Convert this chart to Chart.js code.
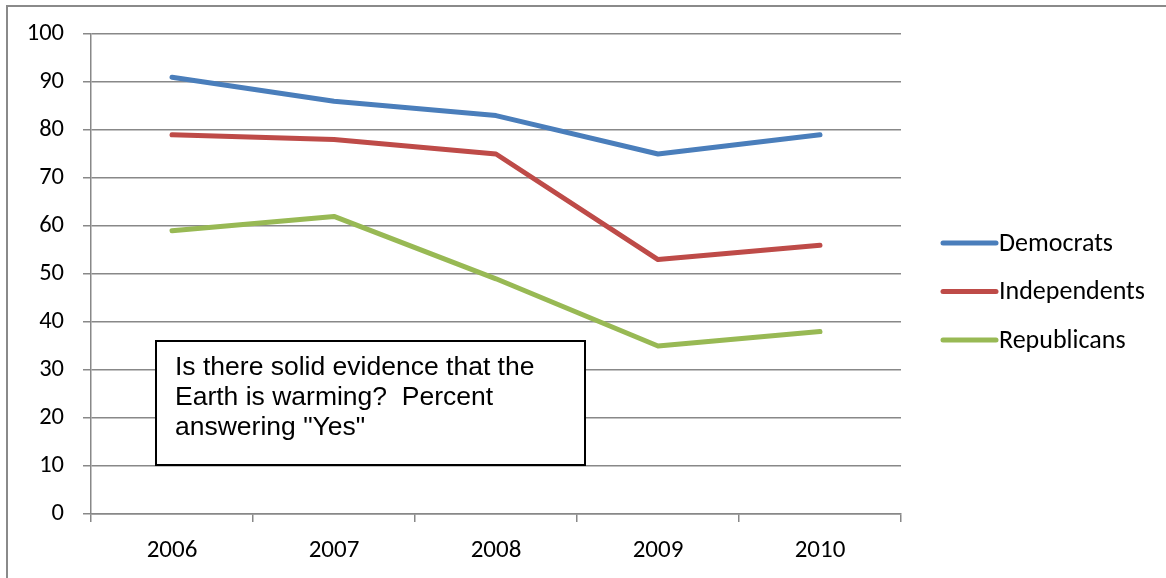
<!DOCTYPE html>
<html>
<head>
<meta charset="utf-8">
<script src="https://cdn.jsdelivr.net/npm/chart.js@4"></script>
<style>
  html, body { margin: 0; padding: 0; background: #fff; }
  #wrap { width: 1166px; height: 578px; position: relative; }
</style>
</head>
<body>
<div id="wrap"><canvas id="c" width="1166" height="578"></canvas></div>
<script>
const years = ['2006', '2007', '2008', '2009', '2010'];
const democrats = [91, 86, 83, 75, 79];
const independents = [79, 78, 75, 53, 56];
const republicans = [59, 62, 49, 35, 38];
const seriesNames = ['Democrats', 'Independents', 'Republicans'];
const seriesColors = ['#4A7EBB', '#BE4B48', '#98B954'];
const yTicks = [0, 10, 20, 30, 40, 50, 60, 70, 80, 90, 100];
const noteLines = ['Is there solid evidence that the', 'Earth is warming?  Percent', 'answering "Yes"'];

const fontFamily = 'Carlito, Lato, "Liberation Sans", sans-serif';
const gridGray = '#888888';

// outer frame, note box and legend
const decor = {
  id: 'decor',
  beforeDraw(chart) {
    const ctx = chart.ctx;
    ctx.save();
    ctx.fillStyle = '#fff';
    ctx.fillRect(0, 0, chart.width, chart.height);
    ctx.strokeStyle = '#8a8a8a';
    ctx.lineWidth = 2;
    ctx.strokeRect(7, 6, 1200, 700);
    ctx.restore();
  },
  afterDraw(chart) {
    const ctx = chart.ctx;
    ctx.save();
    // note box
    ctx.fillStyle = '#fff';
    ctx.fillRect(156, 341, 429, 124);
    ctx.strokeStyle = '#000';
    ctx.lineWidth = 2;
    ctx.strokeRect(156, 341, 429, 124);
    ctx.fillStyle = '#000';
    ctx.font = '26.5px "Liberation Sans", Arial, sans-serif';
    ctx.textBaseline = 'middle';
    ctx.textAlign = 'left';
    noteLines.forEach((t, i) => ctx.fillText(t, 175, 368 + i * 30));
    // legend
    ctx.font = '26px ' + fontFamily;
    chart.data.datasets.forEach((ds, i) => {
      const y = 243 + i * 48.5;
      ctx.strokeStyle = ds.borderColor;
      ctx.lineWidth = 5;
      ctx.lineCap = 'round';
      ctx.beginPath();
      ctx.moveTo(943, y);
      ctx.lineTo(996, y);
      ctx.stroke();
      ctx.fillStyle = '#000';
      ctx.fillText(ds.label, 999, y + 1);
    });
    ctx.restore();
  }
};

const values = [democrats, independents, republicans];

new Chart(document.getElementById('c'), {
  type: 'line',
  data: {
    labels: years,
    datasets: seriesNames.map((name, i) => ({
      label: name,
      data: values[i],
      borderColor: seriesColors[i],
      backgroundColor: seriesColors[i],
      borderWidth: 5,
      pointRadius: 0,
      tension: 0,
      borderCapStyle: 'round',
      borderJoinStyle: 'round'
    }))
  },
  options: {
    responsive: false,
    animation: false,
    events: [],
    layout: { padding: { left: 0, top: 34, right: 265, bottom: 0 } },
    plugins: { legend: { display: false }, tooltip: { enabled: false } },
    scales: {
      x: {
        offset: true,
        grid: { offset: true, drawOnChartArea: false, color: gridGray, tickLength: 8, lineWidth: 1.5 },
        border: { color: gridGray, width: 1.5 },
        ticks: { font: { family: fontFamily, size: 25 }, color: '#000', padding: 14, maxRotation: 0 },
        afterFit(s) { s.height = 64; }
      },
      y: {
        min: 0, max: 100,
        afterBuildTicks(s) { s.ticks = yTicks.map(v => ({ value: v })); },
        grid: { color: gridGray, tickLength: 8, lineWidth: 1.5 },
        border: { color: gridGray, width: 1.5 },
        ticks: { font: { family: fontFamily, size: 24.5 }, color: '#000', padding: 19 },
        afterFit(s) { s.width = 91; }
      }
    }
  },
  plugins: [decor]
});
</script>
</body>
</html>
